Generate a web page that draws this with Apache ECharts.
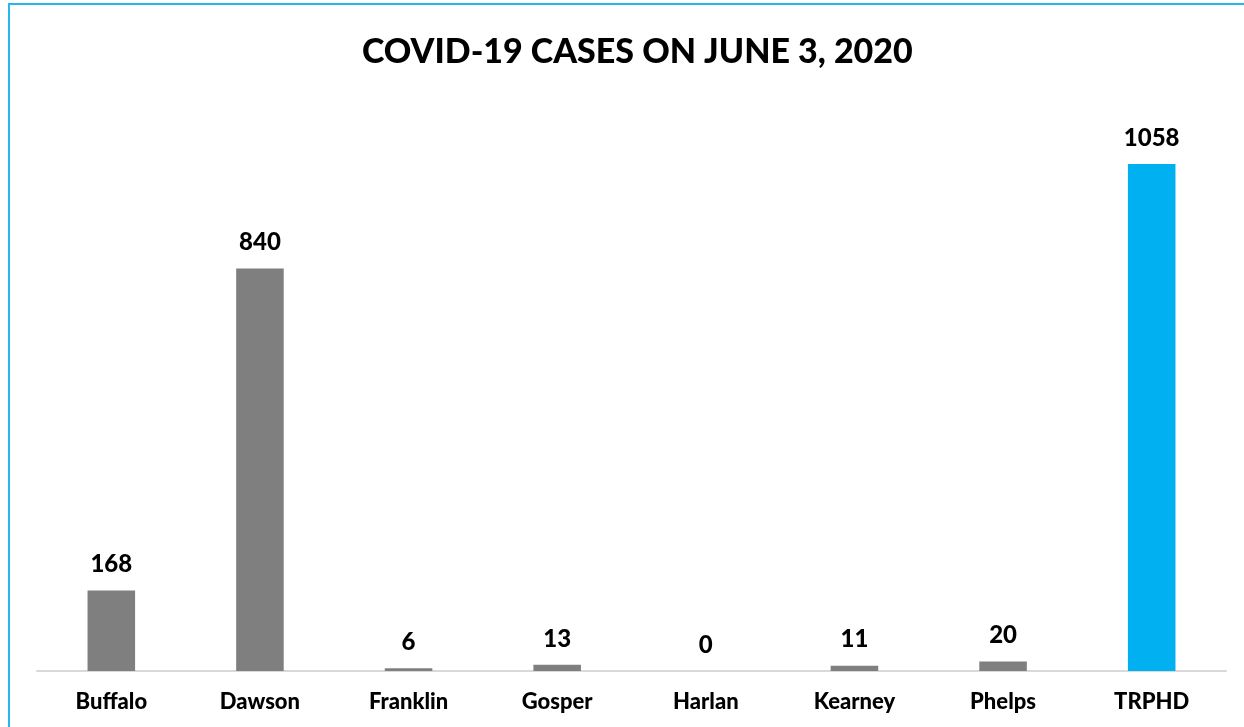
<!DOCTYPE html>
<html>
<head>
<meta charset="utf-8">
<script src="https://cdn.jsdelivr.net/npm/echarts@6/dist/echarts.min.js"></script>
<style>
  html, body { margin: 0; padding: 0; background: #fff; }
  #main { width: 1244px; height: 727px; }
</style>
</head>
<body>
<div id="main"></div>
<script>
// counties and case counts
var categories = ["Buffalo", "Dawson", "Franklin", "Gosper", "Harlan", "Kearney", "Phelps", "TRPHD"];
var cases = [168, 840, 6, 13, 0, 11, 20, 1058];
var barColors = ["#7f7f7f", "#7f7f7f", "#7f7f7f", "#7f7f7f", "#7f7f7f", "#7f7f7f", "#7f7f7f", "#00b0f0"];

var chart = echarts.init(document.getElementById("main"));
var font = "Lato, 'DejaVu Sans', sans-serif";

var option = {
  backgroundColor: "#fff",
  animation: false,
  title: {
    text: "COVID-19 CASES ON JUNE 3, 2020",
    left: 357,
    top: 30,
    textStyle: { fontFamily: font, fontWeight: 900, fontSize: 34, color: "#000" }
  },
  graphic: [{
    type: "rect",
    shape: { x: 9, y: 4, width: 1300, height: 800 },
    style: { fill: "none", stroke: "#29b6ec", lineWidth: 2 },
    silent: true
  }],
  grid: { left: 37, right: 18, top: 96, bottom: 56 },
  xAxis: {
    type: "category",
    data: categories,
    axisTick: { show: false },
    axisLine: { lineStyle: { color: "#d9d9d9", width: 2 } },
    axisLabel: { fontFamily: font, fontWeight: 900, fontSize: 22, color: "#000", margin: 20 }
  },
  yAxis: {
    type: "value",
    min: 0,
    max: 1200,
    show: false,
    splitLine: { show: false }
  },
  series: [{
    type: "bar",
    barWidth: "32%",
    data: cases.map(function (v, i) {
      return { value: v, itemStyle: { color: barColors[i] } };
    }),
    label: {
      show: true,
      position: "top",
      distance: 14,
      fontFamily: font,
      fontWeight: 900,
      fontSize: 24,
      color: "#000"
    }
  }]
};

chart.setOption(option);
</script>
</body>
</html>
